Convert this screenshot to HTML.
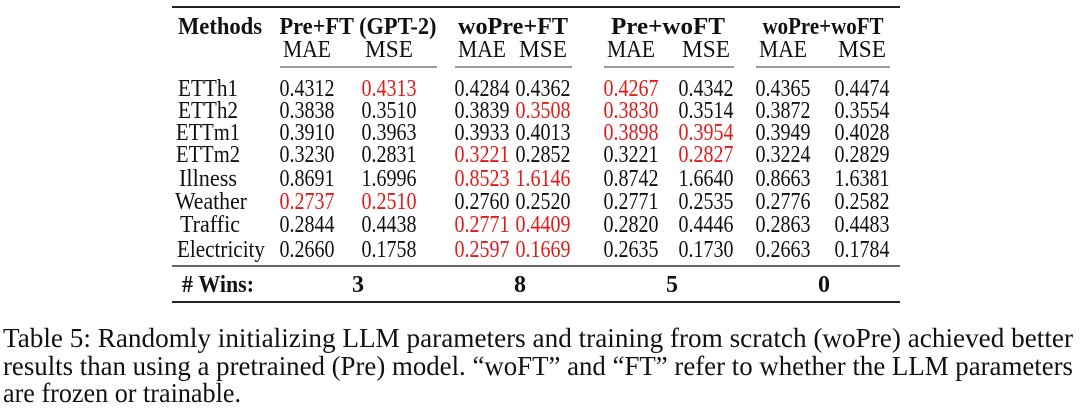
<!DOCTYPE html>
<html><head><meta charset="utf-8"><style>
html,body{margin:0;padding:0;background:#fff;width:1080px;height:414px;overflow:hidden}
svg{display:block}
text{font-family:"Liberation Serif",serif;fill:#111}
.r{fill:#e31a1a}
.b{font-weight:bold}
</style></head><body>
<svg width="1080" height="414" viewBox="0 0 1080 414" xmlns="http://www.w3.org/2000/svg">
<line x1="172" y1="7" x2="900" y2="7" stroke="#222" stroke-width="2"/>
<g font-size="24" text-anchor="middle">
<text class="b" x="220" y="34" textLength="84" lengthAdjust="spacingAndGlyphs">Methods</text>
<text class="b" x="358" y="34" textLength="157" lengthAdjust="spacingAndGlyphs">Pre+FT (GPT-2)</text>
<text class="b" x="513" y="34" textLength="110" lengthAdjust="spacingAndGlyphs">woPre+FT</text>
<text class="b" x="668" y="34" textLength="114" lengthAdjust="spacingAndGlyphs">Pre+woFT</text>
<text class="b" x="823" y="34" textLength="121" lengthAdjust="spacingAndGlyphs">woPre+woFT</text>
</g>
<g font-size="24" text-anchor="middle">
<text x="307" y="57" textLength="48" lengthAdjust="spacingAndGlyphs">MAE</text><text x="389" y="57" textLength="48" lengthAdjust="spacingAndGlyphs">MSE</text>
<text x="482" y="57" textLength="48" lengthAdjust="spacingAndGlyphs">MAE</text><text x="543" y="57" textLength="48" lengthAdjust="spacingAndGlyphs">MSE</text>
<text x="631" y="57" textLength="48" lengthAdjust="spacingAndGlyphs">MAE</text><text x="706" y="57" textLength="48" lengthAdjust="spacingAndGlyphs">MSE</text>
<text x="783" y="57" textLength="48" lengthAdjust="spacingAndGlyphs">MAE</text><text x="862" y="57" textLength="48" lengthAdjust="spacingAndGlyphs">MSE</text>
</g>
<g stroke="#333" stroke-width="1">
<line x1="280" y1="67" x2="437" y2="67"/><line x1="455" y1="67" x2="572" y2="67"/>
<line x1="604" y1="67" x2="734" y2="67"/><line x1="756" y1="67" x2="890" y2="67"/>
</g>
<g font-size="24" text-anchor="middle">
<text x="208" y="96" textLength="60" lengthAdjust="spacingAndGlyphs">ETTh1</text><text x="307" y="96" textLength="55" lengthAdjust="spacingAndGlyphs">0.4312</text><text class="r" x="389" y="96" textLength="55" lengthAdjust="spacingAndGlyphs">0.4313</text><text x="482" y="96" textLength="55" lengthAdjust="spacingAndGlyphs">0.4284</text><text x="543" y="96" textLength="55" lengthAdjust="spacingAndGlyphs">0.4362</text><text class="r" x="631" y="96" textLength="55" lengthAdjust="spacingAndGlyphs">0.4267</text><text x="706" y="96" textLength="55" lengthAdjust="spacingAndGlyphs">0.4342</text><text x="783" y="96" textLength="55" lengthAdjust="spacingAndGlyphs">0.4365</text><text x="862" y="96" textLength="55" lengthAdjust="spacingAndGlyphs">0.4474</text>
<text x="208" y="118" textLength="60" lengthAdjust="spacingAndGlyphs">ETTh2</text><text x="307" y="118" textLength="55" lengthAdjust="spacingAndGlyphs">0.3838</text><text x="389" y="118" textLength="55" lengthAdjust="spacingAndGlyphs">0.3510</text><text x="482" y="118" textLength="55" lengthAdjust="spacingAndGlyphs">0.3839</text><text class="r" x="543" y="118" textLength="55" lengthAdjust="spacingAndGlyphs">0.3508</text><text class="r" x="631" y="118" textLength="55" lengthAdjust="spacingAndGlyphs">0.3830</text><text x="706" y="118" textLength="55" lengthAdjust="spacingAndGlyphs">0.3514</text><text x="783" y="118" textLength="55" lengthAdjust="spacingAndGlyphs">0.3872</text><text x="862" y="118" textLength="55" lengthAdjust="spacingAndGlyphs">0.3554</text>
<text x="208" y="140" textLength="64" lengthAdjust="spacingAndGlyphs">ETTm1</text><text x="307" y="140" textLength="55" lengthAdjust="spacingAndGlyphs">0.3910</text><text x="389" y="140" textLength="55" lengthAdjust="spacingAndGlyphs">0.3963</text><text x="482" y="140" textLength="55" lengthAdjust="spacingAndGlyphs">0.3933</text><text x="543" y="140" textLength="55" lengthAdjust="spacingAndGlyphs">0.4013</text><text class="r" x="631" y="140" textLength="55" lengthAdjust="spacingAndGlyphs">0.3898</text><text class="r" x="706" y="140" textLength="55" lengthAdjust="spacingAndGlyphs">0.3954</text><text x="783" y="140" textLength="55" lengthAdjust="spacingAndGlyphs">0.3949</text><text x="862" y="140" textLength="55" lengthAdjust="spacingAndGlyphs">0.4028</text>
<text x="208" y="162" textLength="64" lengthAdjust="spacingAndGlyphs">ETTm2</text><text x="307" y="162" textLength="55" lengthAdjust="spacingAndGlyphs">0.3230</text><text x="389" y="162" textLength="55" lengthAdjust="spacingAndGlyphs">0.2831</text><text class="r" x="482" y="162" textLength="55" lengthAdjust="spacingAndGlyphs">0.3221</text><text x="543" y="162" textLength="55" lengthAdjust="spacingAndGlyphs">0.2852</text><text x="631" y="162" textLength="55" lengthAdjust="spacingAndGlyphs">0.3221</text><text class="r" x="706" y="162" textLength="55" lengthAdjust="spacingAndGlyphs">0.2827</text><text x="783" y="162" textLength="55" lengthAdjust="spacingAndGlyphs">0.3224</text><text x="862" y="162" textLength="55" lengthAdjust="spacingAndGlyphs">0.2829</text>
<text x="208" y="186" textLength="58" lengthAdjust="spacingAndGlyphs">Illness</text><text x="307" y="186" textLength="55" lengthAdjust="spacingAndGlyphs">0.8691</text><text x="389" y="186" textLength="55" lengthAdjust="spacingAndGlyphs">1.6996</text><text class="r" x="482" y="186" textLength="55" lengthAdjust="spacingAndGlyphs">0.8523</text><text class="r" x="543" y="186" textLength="55" lengthAdjust="spacingAndGlyphs">1.6146</text><text x="631" y="186" textLength="55" lengthAdjust="spacingAndGlyphs">0.8742</text><text x="706" y="186" textLength="55" lengthAdjust="spacingAndGlyphs">1.6640</text><text x="783" y="186" textLength="55" lengthAdjust="spacingAndGlyphs">0.8663</text><text x="862" y="186" textLength="55" lengthAdjust="spacingAndGlyphs">1.6381</text>
<text x="211" y="209" textLength="72" lengthAdjust="spacingAndGlyphs">Weather</text><text class="r" x="307" y="209" textLength="55" lengthAdjust="spacingAndGlyphs">0.2737</text><text class="r" x="389" y="209" textLength="55" lengthAdjust="spacingAndGlyphs">0.2510</text><text x="482" y="209" textLength="55" lengthAdjust="spacingAndGlyphs">0.2760</text><text x="543" y="209" textLength="55" lengthAdjust="spacingAndGlyphs">0.2520</text><text x="631" y="209" textLength="55" lengthAdjust="spacingAndGlyphs">0.2771</text><text x="706" y="209" textLength="55" lengthAdjust="spacingAndGlyphs">0.2535</text><text x="783" y="209" textLength="55" lengthAdjust="spacingAndGlyphs">0.2776</text><text x="862" y="209" textLength="55" lengthAdjust="spacingAndGlyphs">0.2582</text>
<text x="210" y="232" textLength="60" lengthAdjust="spacingAndGlyphs">Traffic</text><text x="307" y="232" textLength="55" lengthAdjust="spacingAndGlyphs">0.2844</text><text x="389" y="232" textLength="55" lengthAdjust="spacingAndGlyphs">0.4438</text><text class="r" x="482" y="232" textLength="55" lengthAdjust="spacingAndGlyphs">0.2771</text><text class="r" x="543" y="232" textLength="55" lengthAdjust="spacingAndGlyphs">0.4409</text><text x="631" y="232" textLength="55" lengthAdjust="spacingAndGlyphs">0.2820</text><text x="706" y="232" textLength="55" lengthAdjust="spacingAndGlyphs">0.4446</text><text x="783" y="232" textLength="55" lengthAdjust="spacingAndGlyphs">0.2863</text><text x="862" y="232" textLength="55" lengthAdjust="spacingAndGlyphs">0.4483</text>
<text x="221" y="257" textLength="88" lengthAdjust="spacingAndGlyphs">Electricity</text><text x="307" y="257" textLength="55" lengthAdjust="spacingAndGlyphs">0.2660</text><text x="389" y="257" textLength="55" lengthAdjust="spacingAndGlyphs">0.1758</text><text class="r" x="482" y="257" textLength="55" lengthAdjust="spacingAndGlyphs">0.2597</text><text class="r" x="543" y="257" textLength="55" lengthAdjust="spacingAndGlyphs">0.1669</text><text x="631" y="257" textLength="55" lengthAdjust="spacingAndGlyphs">0.2635</text><text x="706" y="257" textLength="55" lengthAdjust="spacingAndGlyphs">0.1730</text><text x="783" y="257" textLength="55" lengthAdjust="spacingAndGlyphs">0.2663</text><text x="862" y="257" textLength="55" lengthAdjust="spacingAndGlyphs">0.1784</text>
</g>
<line x1="172" y1="266" x2="900" y2="266" stroke="#333" stroke-width="1.5"/>
<g font-size="24" text-anchor="middle">
<text class="b" x="218" y="292" textLength="72" lengthAdjust="spacingAndGlyphs">#&#160;Wins:</text>
<text class="b" x="358" y="292">3</text><text class="b" x="520" y="292">8</text>
<text class="b" x="672" y="292">5</text><text class="b" x="824" y="292">0</text>
</g>
<line x1="172" y1="302" x2="900" y2="302" stroke="#222" stroke-width="2"/>
<g font-size="27">
<text x="3" y="347" textLength="1070" lengthAdjust="spacingAndGlyphs">Table 5: Randomly initializing LLM parameters and training from scratch (woPre) achieved better</text>
<text x="3" y="375" textLength="1070" lengthAdjust="spacingAndGlyphs">results than using a pretrained (Pre) model. “woFT” and “FT” refer to whether the LLM parameters</text>
<text x="3" y="402" textLength="238" lengthAdjust="spacingAndGlyphs">are frozen or trainable.</text>
</g>
</svg>
</body></html>
